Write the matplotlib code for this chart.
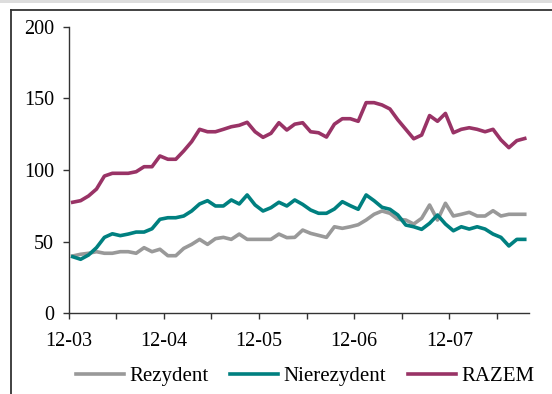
import numpy as np
import matplotlib
matplotlib.use('Agg')
import matplotlib.pyplot as plt
from matplotlib.lines import Line2D
from matplotlib.patches import Rectangle

# monthly data, 12-03 ... 09-08
rezydent = [40, 41.2, 41.9, 43, 41.9, 41.9, 43, 43, 41.9, 45.8,
            43, 44.7, 40.2, 40.2, 45.3, 48.1, 51.6, 48.1, 52.1, 53,
            51.6, 55.3, 51.6, 51.6, 51.6, 51.6, 55.3, 52.8, 53, 58.1,
            55.8, 54.4, 53, 60.4, 59.3, 60.4, 61.8, 65.1, 69.1, 71.4,
            69.8, 65.6, 65.1, 62.3, 66.3, 75.6, 65.1, 76.8, 67.9, 69.1,
            70.5, 67.9, 67.9, 71.6, 67.9, 69.1, 69.1, 69.1]
nierezydent = [39.5, 37.7, 40.7, 45.8, 53, 55.5, 54.2, 55.3, 56.7, 56.7,
               59, 65.6, 66.7, 66.7, 67.9, 71.4, 76.3, 78.6, 74.9, 74.9,
               79.1, 76.3, 82.6, 75.6, 71.4, 73.7, 77.5, 74.9, 79.1, 76,
               72.1, 69.8, 69.8, 72.8, 77.9, 75.1, 72.6, 82.6, 78.6, 74,
               72.6, 68.6, 61.6, 60.4, 58.6, 62.8, 68.6, 62.3, 57.6, 60.4,
               58.8, 60.4, 58.8, 55.3, 53, 47, 51.6, 51.6]
razem = [77.5, 78.6, 81.9, 86.7, 95.8, 97.7, 97.7, 97.7, 98.8, 102.3,
         102.3, 109.8, 107.5, 107.5, 113.3, 119.8, 128.4, 126.7, 126.7, 128.4,
         130.2, 131.2, 133.3, 126.7, 122.8, 125.6, 133, 127.9, 132, 133,
         126.7, 126, 123, 132, 135.8, 135.8, 134, 147, 147, 145.4,
         142.6, 135, 128.4, 121.8, 124.4, 138, 134, 139.5, 126, 128.4,
         129.5, 128.4, 126.7, 128.4, 121, 115.6, 120.5, 122]
x_labels = ['12-03', '12-04', '12-05', '12-06', '12-07']
series_names = ['Rezydent', 'Nierezydent', 'RAZEM']

plt.rcParams['font.family'] = ['Liberation Serif', 'DejaVu Serif']

fig = plt.figure(figsize=(5.52, 3.94), dpi=100)
ax = fig.add_axes([0.1245, 0.2048, 0.9578 - 0.1245, 0.9322 - 0.2048])

n = len(razem)
x = np.arange(n) + 0.5
ax.plot(x, rezydent, color='#999999', lw=2.6, label=series_names[0])
ax.plot(x, nierezydent, color='#008080', lw=2.6, label=series_names[1])
ax.plot(x, razem, color='#993366', lw=2.6, label=series_names[2])

ax.set_xlim(0, n)
ax.set_ylim(0, 200)
ax.set_yticks([0, 50, 100, 150, 200])
ax.set_xticks(np.arange(len(x_labels)) * 12)
ax.set_xticklabels(x_labels)
ax.set_xticks(np.arange(len(x_labels)) * 12 + 6, minor=True)

for side in ['top', 'right']:
    ax.spines[side].set_visible(False)
for side in ['left', 'bottom']:
    ax.spines[side].set_linewidth(1.0)
    ax.spines[side].set_color('#333333')

ax.tick_params(axis='y', length=4.5, width=1, pad=6, labelsize=14.5, colors='#333333', labelcolor='black')
ax.tick_params(axis='x', which='both', length=4, width=1, pad=9.5, labelsize=14.5, colors='#333333', labelcolor='black')

fig.legend(loc='center', bbox_to_anchor=(0.553, 0.045), ncol=3, frameon=False,
           fontsize=15, handlelength=2.3, handletextpad=0.25, columnspacing=1.05)

# outer frame as in the source
fig.add_artist(Rectangle((0, 1 - 3 / 394), 1, 3 / 394, transform=fig.transFigure,
                         color='#dddddd', lw=0))
fig.add_artist(Line2D([11 / 552, 1], [1 - 10 / 394, 1 - 10 / 394], transform=fig.transFigure,
                      color='#333333', lw=1.3))
fig.add_artist(Line2D([11 / 552, 11 / 552], [0, 1 - 10 / 394], transform=fig.transFigure,
                      color='#333333', lw=1.3))

fig.savefig('out.png', dpi=100)
